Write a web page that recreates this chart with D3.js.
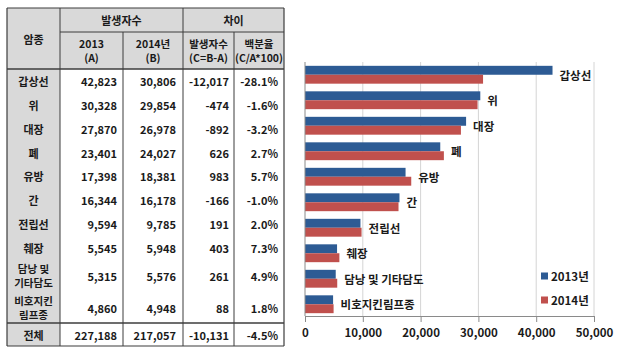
<!DOCTYPE html>
<html><head><meta charset="utf-8">
<script src="https://cdn.jsdelivr.net/npm/d3@7/dist/d3.min.js"></script>
<style>
html,body{margin:0;padding:0;background:#fff;}
svg{display:block;}
text{font-family:"Noto Sans CJK KR","Noto Sans",sans-serif;font-weight:bold;fill:#1a1a1a;}
</style></head>
<body>
<svg id="c" width="617" height="356"></svg>
<script>
// ---- data ----
const categories = ["갑상선","위","대장","폐","유방","간","전립선","췌장","담낭 및 기타담도","비호지킨림프종"];
const tableLabels = [["갑상선"],["위"],["대장"],["폐"],["유방"],["간"],["전립선"],["췌장"],["담낭 및","기타담도"],["비호지킨","림프종"]];
const cases2013 = [42823,30328,27870,23401,17398,16344,9594,5545,5315,4860];
const cases2014 = [30806,29854,26978,24027,18381,16178,9785,5948,5576,4948];
const diffs = [-12017,-474,-892,626,983,-166,191,403,261,88];
const pcts = [-28.1,-1.6,-3.2,2.7,5.7,-1.0,2.0,7.3,4.9,1.8];
const totalRow = {label:"전체", a:227188, b:217057, c:-10131, p:-4.5};
const seriesNames = ["2013년","2014년"];
const xTicks = [0,10000,20000,30000,40000,50000];
const headerTop = ["암종","발생자수","차이"];
const headerSub = [["2013","(A)"],["2014년","(B)"],["발생자수","(C=B-A)"],["백분율","(C/A*100)"]];

const colors = ["#2d5b94","#c0504d"];
const loc = d3.formatLocale({decimal:".",thousands:",",grouping:[3],currency:["",""],minus:"-"});
const fInt = loc.format(",");
const fPct = v => loc.format(".1f")(v) + "%";

const svg = d3.select("#c");

// ---- table ----
const colX = [7,60,123,183,234,284];
const tTop = 8, hMid = 32, hBot = 69;
const rowH = tableLabels.map(l => l.length > 1 ? 32 : 23.75);
const rowY = [hBot];
rowH.forEach((h,i)=>rowY.push(rowY[i]+h));
const totTop = rowY[rowY.length-1], totBot = totTop + 23;
const gray = "#d9d9d9", lineC = "#3c3c3c";
const T = svg.append("g").attr("font-size", 11);

// backgrounds
T.append("rect").attr("x",colX[0]).attr("y",tTop).attr("width",colX[5]-colX[0]).attr("height",hBot-tTop).attr("fill",gray);
T.append("rect").attr("x",colX[0]).attr("y",hBot).attr("width",colX[1]-colX[0]).attr("height",totBot-hBot).attr("fill",gray);

// lines
const L = (x1,y1,x2,y2,w) => T.append("line").attr("x1",x1).attr("y1",y1).attr("x2",x2).attr("y2",y2).attr("stroke",lineC).attr("stroke-width",w||1);
L(colX[0],tTop,colX[5],tTop,1.2);
L(colX[0],totBot,colX[5],totBot,1.2);
L(colX[0],tTop,colX[0],totBot,1.2);
L(colX[5],tTop,colX[5],totBot,1.2);
L(colX[1],hMid,colX[5],hMid);
L(colX[0],hBot,colX[5],hBot,1.5);
L(colX[0],totTop,colX[5],totTop,1.5);
L(colX[1],tTop,colX[1],totBot);
L(colX[3],tTop,colX[3],totBot);
L(colX[2],hMid,colX[2],totBot);
L(colX[4],hMid,colX[4],totBot);

const txt = (x,y,s,anchor) => T.append("text").attr("x",x).attr("y",y).attr("text-anchor",anchor||"middle").attr("dominant-baseline","central").text(s);
// multi-line text
const mtxt = (x,cy,lines,gap,fs) => {
  lines.forEach((s,j)=>T.append("text").attr("x",x).attr("y",cy + (j-(lines.length-1)/2)*gap)
    .attr("text-anchor","middle").attr("dominant-baseline","central").attr("font-size",fs).text(s));
};
// headers
txt((colX[0]+colX[1])/2, (tTop+hBot)/2, headerTop[0]);
txt((colX[1]+colX[3])/2, (tTop+hMid)/2, headerTop[1]);
txt((colX[3]+colX[5])/2, (tTop+hMid)/2, headerTop[2]);
headerSub.forEach((lines,i)=>{
  mtxt((colX[i+1]+colX[i+2])/2, (hMid+hBot)/2, lines, 14, 10.5);
});
// rows
tableLabels.forEach((lines,i)=>{
  const cy = (rowY[i]+rowY[i+1])/2 + 0.5;
  if (lines.length > 1) mtxt((colX[0]+colX[1])/2, cy, lines, 14, 10.5);
  else txt((colX[0]+colX[1])/2, cy, lines[0]);
  txt(colX[2]-6, cy, fInt(cases2013[i]), "end");
  txt(colX[3]-7, cy, fInt(cases2014[i]), "end");
  txt(colX[4]-5, cy, fInt(diffs[i]), "end");
  txt(colX[5]-6, cy, fPct(pcts[i]), "end");
});
{
  const cy = (totTop+totBot)/2 + 0.5;
  txt((colX[0]+colX[1])/2, cy, totalRow.label);
  txt(colX[2]-6, cy, fInt(totalRow.a), "end");
  txt(colX[3]-7, cy, fInt(totalRow.b), "end");
  txt(colX[4]-5, cy, fInt(totalRow.c), "end");
  txt(colX[5]-6, cy, fPct(totalRow.p), "end");
}

// ---- bar chart ----
const x = d3.scaleLinear().domain([0,50000]).range([305,594]);
const y = d3.scaleBand().domain(categories).range([62,317]).paddingInner(0.3).paddingOuter(0.15);
const ySub = d3.scaleBand().domain([0,1]).range([0,y.bandwidth()]);
const axisBottom = 316;
const C = svg.append("g");

// gridlines
C.append("g").selectAll("line").data(xTicks.slice(1)).join("line")
  .attr("x1",d=>x(d)).attr("x2",d=>x(d)).attr("y1",62).attr("y2",axisBottom)
  .attr("stroke","#d4d4d4").attr("stroke-width",1);

// bars
const rows = categories.map((c,i)=>({c, v:[cases2013[i],cases2014[i]]}));
const g = C.append("g").selectAll("g").data(rows).join("g").attr("transform",d=>`translate(0,${y(d.c)})`);
g.selectAll("rect").data(d=>d.v.map((v,k)=>({v,k}))).join("rect")
  .attr("x",x(0)).attr("y",d=>ySub(d.k)).attr("width",d=>x(d.v)-x(0)).attr("height",ySub.bandwidth())
  .attr("fill",d=>colors[d.k]);

// category labels
C.append("g").selectAll("text").data(rows).join("text")
  .attr("x",d=>x(Math.max(d.v[0],d.v[1]))+7)
  .attr("y",d=>y(d.c)+y.bandwidth()/2)
  .attr("dominant-baseline","central").attr("font-size",11.5)
  .text(d=>d.c);

// axes
const ax = d3.axisBottom(x).tickValues(xTicks).tickFormat(fInt).tickSize(6).tickSizeOuter(0);
const axG = C.append("g").attr("transform",`translate(0,${axisBottom})`).call(ax);
axG.select(".domain").attr("stroke","#8a8a8a");
axG.selectAll(".tick line").attr("stroke","#8a8a8a");
axG.selectAll(".tick text").attr("font-size",11.5).attr("font-family",null).attr("dy","0.9em").attr("y",11).attr("fill","#1a1a1a");
C.append("line").attr("x1",x(0)).attr("x2",x(0)).attr("y1",62).attr("y2",axisBottom).attr("stroke","#8a8a8a");

// legend
const lg = C.append("g").selectAll("g").data(seriesNames).join("g").attr("transform",(d,i)=>`translate(541,${276+i*24})`);
lg.append("rect").attr("x",0).attr("y",-3.5).attr("width",7).attr("height",7).attr("fill",(d,i)=>colors[i]);
lg.append("text").attr("x",10).attr("y",0).attr("dominant-baseline","central").attr("font-size",11.5).text(d=>d);
</script>
</body></html>
